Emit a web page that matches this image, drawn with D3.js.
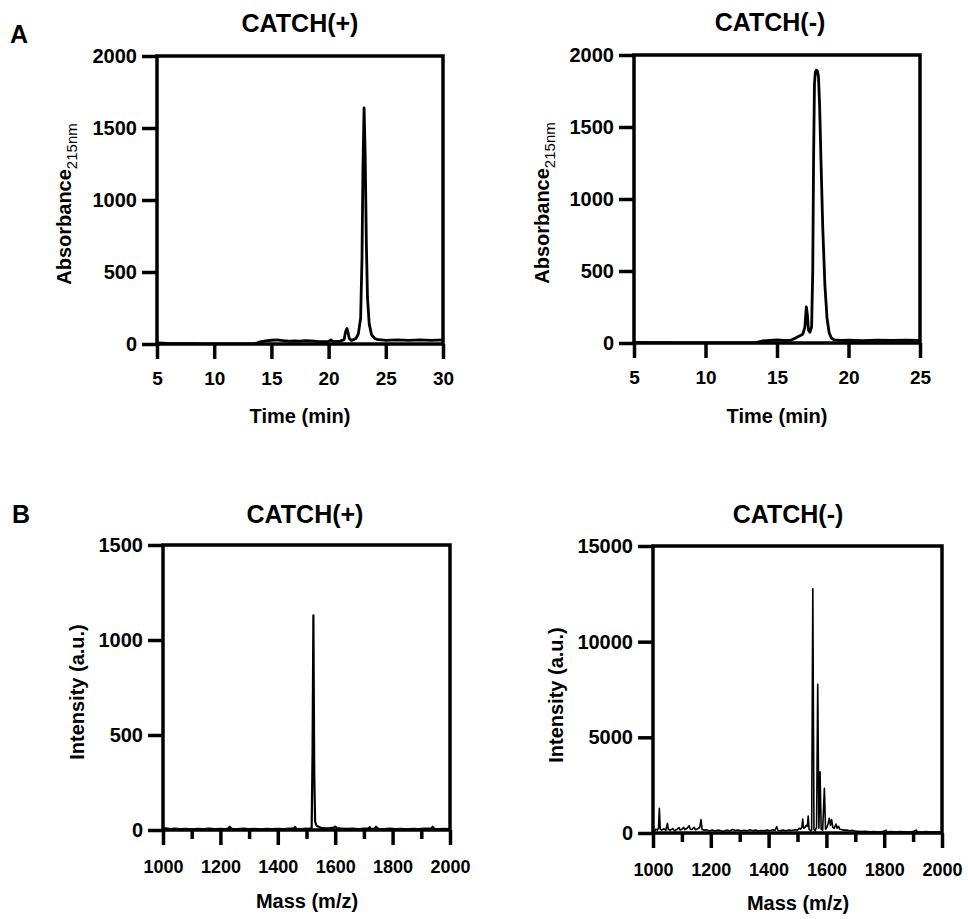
<!DOCTYPE html>
<html>
<head>
<meta charset="utf-8">
<script src="https://cdn.jsdelivr.net/npm/d3@7"></script>
<style>
  body { margin: 0; background: #fff; }
  svg text { font-family: "Liberation Sans", Arial, sans-serif; font-weight: bold; fill: #000; }
</style>
</head>
<body>
<svg id="fig" width="968" height="919"></svg>
<script>
/* HPLC traces (A) */
var hplcPlusTime = [5, 5.5, 6, 7, 8, 9, 10, 11, 12, 13, 13.5, 13.8, 14, 14.5, 15, 15.5, 16, 16.5, 17, 17.5, 18, 18.5, 19, 19.5, 20, 20.2, 20.4, 20.7, 21, 21.35, 21.5, 21.6, 21.7, 21.8, 22.0, 22.2, 22.4, 22.6, 22.8, 22.92, 23.0, 23.1, 23.2, 23.3, 23.4, 23.55, 23.75, 24.0, 24.3, 24.6, 25, 26, 27, 28, 29, 30];
var hplcPlusAbs  = [8, 6, 4, 3, 2, 1, 0, 0, 0, 0, 2, 8, 15, 22, 26, 28, 24, 20, 22, 20, 24, 22, 18, 16, 18, 28, 16, 18, 20, 30, 90, 108, 80, 40, 25, 30, 40, 70, 180, 600, 1200, 1640, 1300, 700, 320, 140, 65, 40, 30, 28, 25, 28, 25, 28, 25, 28];

var hplcMinusTime = [5, 6, 7, 8, 9, 10, 11, 12, 13, 13.5, 13.8, 14, 14.5, 15, 15.5, 16, 16.3, 16.6, 16.8, 16.95, 17.05, 17.12, 17.2, 17.3, 17.42, 17.5, 17.56, 17.62, 17.68, 17.75, 17.82, 17.9, 17.98, 18.08, 18.2, 18.35, 18.5, 18.65, 18.8, 19, 19.5, 20, 21, 22, 23, 24, 25];
var hplcMinusAbs  = [5, 3, 2, 1, 0, 0, 0, 0, 0, 3, 10, 14, 18, 22, 18, 20, 35, 50, 60, 110, 250, 200, 90, 75, 110, 500, 1300, 1800, 1880, 1895, 1890, 1850, 1650, 1250, 800, 400, 170, 70, 35, 22, 18, 20, 16, 20, 18, 20, 18];

/* MALDI spectra (B) */
var msPlusMass = [1000, 1010, 1025, 1040, 1060, 1080, 1100, 1120, 1140, 1160, 1180, 1200, 1215, 1228, 1232, 1240, 1260, 1280, 1300, 1320, 1340, 1360, 1380, 1400, 1420, 1440, 1455, 1460, 1465, 1480, 1500, 1510, 1518, 1521, 1524, 1527, 1530, 1534, 1540, 1550, 1565, 1580, 1595, 1600, 1605, 1620, 1640, 1660, 1680, 1700, 1715, 1720, 1725, 1738, 1742, 1750, 1770, 1790, 1810, 1830, 1850, 1870, 1890, 1910, 1935, 1940, 1945, 1960, 1980, 2000];
var msPlusInt  = [6, 9, 5, 7, 5, 6, 4, 6, 5, 7, 5, 6, 5, 8, 17, 6, 5, 7, 5, 6, 4, 6, 5, 6, 5, 7, 8, 16, 6, 5, 7, 6, 10, 400, 1130, 300, 45, 25, 18, 12, 9, 10, 12, 18, 10, 8, 6, 7, 5, 8, 7, 15, 6, 8, 17, 6, 5, 7, 5, 6, 4, 6, 5, 7, 8, 17, 6, 5, 6, 5];

var msMinusMass = [1000, 1005, 1010, 1015, 1019, 1022, 1025, 1030, 1038, 1044, 1050, 1053, 1060, 1068, 1075, 1082, 1090, 1094, 1100, 1106, 1110, 1118, 1125, 1129, 1135, 1142, 1147, 1155, 1162, 1166, 1170, 1178, 1185, 1195, 1205, 1215, 1225, 1235, 1245, 1255, 1265, 1275, 1285, 1295, 1305, 1315, 1325, 1335, 1345, 1355, 1365, 1375, 1385, 1395, 1405, 1415, 1422, 1428, 1432, 1440, 1450, 1460, 1470, 1480, 1490, 1500, 1506, 1510, 1515, 1518, 1521, 1526, 1530, 1534, 1537, 1540, 1545, 1549, 1553, 1557, 1561, 1566, 1570, 1574, 1578, 1582, 1587, 1593, 1597, 1602, 1606, 1610, 1614, 1618, 1622, 1627, 1633, 1637, 1642, 1646, 1652, 1660, 1670, 1680, 1690, 1700, 1710, 1720, 1735, 1750, 1765, 1780, 1795, 1806, 1810, 1825, 1840, 1855, 1870, 1885, 1900, 1910, 1915, 1930, 1945, 1960, 1975, 1990, 2000];
var msMinusInt  = [120, 80, 200, 150, 250, 1290, 200, 150, 220, 130, 500, 180, 150, 230, 120, 180, 280, 150, 200, 300, 170, 250, 380, 200, 180, 300, 170, 220, 300, 700, 180, 150, 170, 110, 160, 100, 150, 120, 90, 150, 110, 180, 130, 160, 100, 140, 110, 170, 120, 150, 100, 130, 110, 150, 120, 170, 130, 330, 140, 120, 150, 120, 160, 130, 170, 150, 250, 200, 300, 730, 250, 300, 400, 350, 890, 200, 120, 150, 12760, 200, 100, 300, 7770, 250, 3200, 200, 150, 2330, 200, 300, 500, 770, 400, 700, 300, 250, 470, 250, 350, 200, 180, 150, 160, 120, 140, 100, 90, 70, 90, 60, 80, 50, 70, 150, 60, 70, 50, 70, 60, 50, 70, 150, 60, 50, 70, 50, 60, 50, 60];

var svg = d3.select("#fig");

/* panel letters */
svg.append("text").attr("x", 10).attr("y", 43).style("font-size", "25px").text("A");
svg.append("text").attr("x", 12).attr("y", 523).style("font-size", "25px").text("B");

var clipCount = 0;
var AXIS_W = 3.5;

function drawPanel(o) {
	var x = d3.scaleLinear().domain(o.xDomain).range([o.l, o.r]);
	var y = d3.scaleLinear().domain(o.yDomain).range([o.b, o.t]);
	var g = svg.append("g");

	clipCount++;
	var clipId = "clip" + clipCount;
	g.append("clipPath").attr("id", clipId)
		.append("rect").attr("x", o.l).attr("y", o.t).attr("width", o.r - o.l).attr("height", o.b - o.t);

	var line = d3.line()
		.x(function(i) { return x(o.xs[i]); })
		.y(function(i) { return y(o.ys[i]); });

	g.append("path")
		.datum(d3.range(o.xs.length))
		.attr("clip-path", "url(#" + clipId + ")")
		.attr("d", line)
		.attr("fill", "none")
		.attr("stroke", "#000")
		.attr("stroke-width", o.lineWidth)
		.attr("stroke-linejoin", "round");

	/* x axis */
	var xa = g.append("g").attr("transform", "translate(0," + o.b + ")")
		.call(d3.axisBottom(x).tickValues(o.xTicks).tickFormat(d3.format("d"))
			.tickSize(15).tickSizeOuter(0).tickPadding(o.xPad));
	if (o.minorTicks) {
		g.append("g").attr("transform", "translate(0," + o.b + ")")
			.call(d3.axisBottom(x).tickValues(o.minorTicks).tickSize(9).tickSizeOuter(0).tickFormat(""))
			.call(function(a) { a.select(".domain").remove(); a.selectAll("line").attr("stroke-width", AXIS_W); });
	}
	xa.select(".domain").remove();
	xa.selectAll("line").attr("stroke-width", AXIS_W);
	xa.selectAll("text").style("font-size", o.xFont + "px").attr("fill", "#000");

	/* y axis */
	var ya = g.append("g").attr("transform", "translate(" + o.l + ",0)")
		.call(d3.axisLeft(y).tickValues(o.yTicks).tickFormat(d3.format("d"))
			.tickSize(15).tickSizeOuter(0).tickPadding(5));
	ya.select(".domain").remove();
	ya.selectAll("line").attr("stroke-width", AXIS_W);
	ya.selectAll("text").style("font-size", "20px").attr("fill", "#000");

	/* frame */
	g.append("rect")
		.attr("x", o.l).attr("y", o.t)
		.attr("width", o.r - o.l).attr("height", o.b - o.t)
		.attr("fill", "none").attr("stroke", "#000").attr("stroke-width", AXIS_W);

	/* titles */
	g.append("text").attr("x", o.titleX).attr("y", o.titleY)
		.attr("text-anchor", "middle").style("font-size", "25px").text(o.title);

	g.append("text").attr("x", o.xLabelX).attr("y", o.xLabelY)
		.attr("text-anchor", "middle").style("font-size", "20px").text(o.xLabel);

	var yt = g.append("text")
		.attr("transform", "translate(" + o.yLabelX + "," + o.yLabelY + ") rotate(-90)")
		.attr("text-anchor", "middle").style("font-size", "20px");
	yt.append("tspan").text(o.yLabel);
	if (o.yLabelSub) {
		yt.append("tspan").attr("dy", 6).style("font-size", "15px").style("font-weight", "normal").text(o.yLabelSub);
	}
}

drawPanel({
	l: 157, r: 443, t: 56, b: 344,
	xDomain: [5, 30], yDomain: [0, 2000],
	xTicks: [5, 10, 15, 20, 25, 30], yTicks: [0, 500, 1000, 1500, 2000],
	xs: hplcPlusTime, ys: hplcPlusAbs, lineWidth: 2.8,
	xPad: 12.5, xFont: 19,
	title: "CATCH(+)", titleX: 300, titleY: 32,
	xLabel: "Time (min)", xLabelX: 300, xLabelY: 423,
	yLabel: "Absorbance", yLabelSub: "215nm", yLabelX: 71, yLabelY: 204
});

drawPanel({
	l: 634, r: 920, t: 55, b: 343,
	xDomain: [5, 25], yDomain: [0, 2000],
	xTicks: [5, 10, 15, 20, 25], yTicks: [0, 500, 1000, 1500, 2000],
	xs: hplcMinusTime, ys: hplcMinusAbs, lineWidth: 2.8,
	xPad: 12.5, xFont: 19,
	title: "CATCH(-)", titleX: 770, titleY: 31,
	xLabel: "Time (min)", xLabelX: 777, xLabelY: 423,
	yLabel: "Absorbance", yLabelSub: "215nm", yLabelX: 549, yLabelY: 203
});

drawPanel({
	l: 163, r: 450, t: 545, b: 830,
	xDomain: [1000, 2000], yDomain: [0, 1500],
	xTicks: [1000, 1200, 1400, 1600, 1800, 2000], yTicks: [0, 500, 1000, 1500],
	minorTicks: [1100, 1300, 1500, 1700, 1900],
	xs: msPlusMass, ys: msPlusInt, lineWidth: 2.2,
	xPad: 15, xFont: 18,
	title: "CATCH(+)", titleX: 305, titleY: 523,
	xLabel: "Mass (m/z)", xLabelX: 307, xLabelY: 908,
	yLabel: "Intensity (a.u.)", yLabelX: 84, yLabelY: 692
});

drawPanel({
	l: 653, r: 942, t: 546, b: 833,
	xDomain: [1000, 2000], yDomain: [0, 15000],
	xTicks: [1000, 1200, 1400, 1600, 1800, 2000], yTicks: [0, 5000, 10000, 15000],
	minorTicks: [1100, 1300, 1500, 1700, 1900],
	xs: msMinusMass, ys: msMinusInt, lineWidth: 1.6,
	xPad: 15, xFont: 18,
	title: "CATCH(-)", titleX: 788, titleY: 523,
	xLabel: "Mass (m/z)", xLabelX: 798, xLabelY: 910,
	yLabel: "Intensity (a.u.)", yLabelX: 563, yLabelY: 695
});
</script>
</body>
</html>
